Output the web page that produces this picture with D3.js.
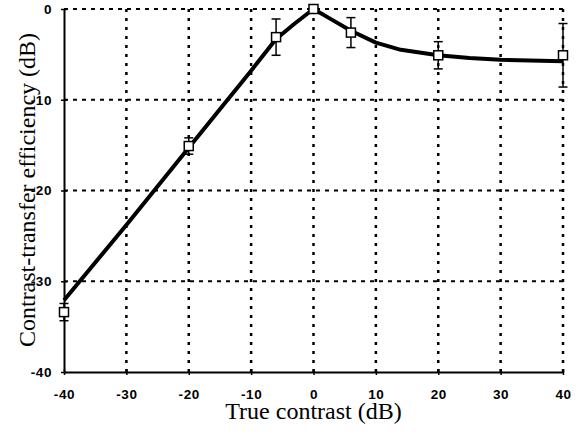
<!DOCTYPE html>
<html>
<head>
<meta charset="utf-8">
<script src="https://cdn.jsdelivr.net/npm/d3@7"></script>
<style>
  body { margin: 0; background: #fff; }
  .tick-label { font-family: "Liberation Sans", Arial, sans-serif; font-weight: bold; font-size: 13.5px; letter-spacing: 0.6px; }
  .axis-title { font-family: "Liberation Serif", "Times New Roman", serif; font-size: 24px; }
</style>
</head>
<body>
<div id="vis"></div>
<script>
// measured points (true contrast dB, efficiency dB, error)
var measX = [-40, -20, -6, 0, 6, 20, 40];
var measY = [-33.4, -15.1, -3.1, 0, -2.6, -5.1, -5.1];
var measErr = [0.95, 0.9, 2.0, 0, 1.65, 1.5, 3.5];

// fitted curve
var curveX = [-40, -30, -20, -14, -10, -6, -3, 0, 3, 6, 10, 14, 20, 25, 30, 40];
var curveY = [-32.1, -23.8, -15.3, -10.2, -6.8, -3.3, -1.6, 0, -1.2, -2.4, -3.7, -4.5, -5.1, -5.4, -5.6, -5.75];

var xTicks = [-40, -30, -20, -10, 0, 10, 20, 30, 40];
var yTicks = [-40, -30, -20, -10, 0];

var W = 586, H = 434;
var plotL = 64, plotR = 563, plotT = 9, plotB = 372;

var x = d3.scaleLinear().domain([-40, 40]).range([plotL, plotR]);
var y = d3.scaleLinear().domain([-40, 0]).range([plotB, plotT]);

var svg = d3.select("#vis").append("svg")
    .attr("width", W)
    .attr("height", H);

// grid: dashed horizontals, dotted verticals
svg.selectAll(".hgrid")
  .data(yTicks.filter(function(d) { return d > -40; }))
  .enter().append("line")
  .attr("x1", plotL).attr("x2", plotR)
  .attr("y1", function(d) { return y(d); })
  .attr("y2", function(d) { return y(d); })
  .attr("stroke", "#000")
  .attr("stroke-width", 2)
  .attr("stroke-dasharray", "4,5");

svg.selectAll(".vgrid")
  .data(xTicks.filter(function(d) { return d > -40; }))
  .enter().append("line")
  .attr("x1", function(d) { return x(d); })
  .attr("x2", function(d) { return x(d); })
  .attr("y1", plotB).attr("y2", plotT)
  .attr("stroke", "#000")
  .attr("stroke-width", 2.5)
  .attr("stroke-dasharray", "3,6");

// axes (plain hyphen minus like the original)
var fmt = function(d) { return String(d); };
var xAxis = svg.append("g")
  .attr("transform", "translate(0," + plotB + ")")
  .call(d3.axisBottom(x).tickValues(xTicks).tickFormat(fmt).tickSizeInner(3).tickSizeOuter(0).tickPadding(14));
var yAxis = svg.append("g")
  .attr("transform", "translate(" + plotL + ",0)")
  .call(d3.axisLeft(y).tickValues(yTicks).tickFormat(fmt).tickSizeInner(3).tickSizeOuter(0).tickPadding(9));

[xAxis, yAxis].forEach(function(a) {
  a.select(".domain").attr("stroke-width", 2);
  a.selectAll(".tick line").attr("stroke-width", 1.5);
  a.selectAll(".tick text").attr("class", "tick-label").attr("fill", "#000");
});
// ticks cross the axis
xAxis.selectAll(".tick line").attr("y1", -3).attr("y2", 3);
yAxis.selectAll(".tick line").attr("x1", -3).attr("x2", 3);

// fitted curve
var curveData = curveX.map(function(d, i) { return [d, curveY[i]]; });
svg.append("path")
  .datum(curveData)
  .attr("fill", "none")
  .attr("stroke", "#000")
  .attr("stroke-width", 4)
  .attr("stroke-linejoin", "round")
  .attr("d", d3.line()
    .x(function(d) { return x(d[0]); })
    .y(function(d) { return y(d[1]); }));

// error bars
var meas = measX.map(function(d, i) { return { x: d, y: measY[i], e: measErr[i] }; });
var eb = svg.selectAll(".err").data(meas.filter(function(d) { return d.e > 0; })).enter().append("g");
eb.append("line")
  .attr("x1", function(d) { return x(d.x); }).attr("x2", function(d) { return x(d.x); })
  .attr("y1", function(d) { return y(d.y + d.e); }).attr("y2", function(d) { return y(d.y - d.e); })
  .attr("stroke", "#000").attr("stroke-width", 1.5);
[1, -1].forEach(function(s) {
  eb.append("line")
    .attr("x1", function(d) { return x(d.x) - 4.5; }).attr("x2", function(d) { return x(d.x) + 4.5; })
    .attr("y1", function(d) { return y(d.y + s * d.e); }).attr("y2", function(d) { return y(d.y + s * d.e); })
    .attr("stroke", "#000").attr("stroke-width", 1.5);
});

// squares
svg.selectAll(".pt").data(meas).enter().append("rect")
  .attr("x", function(d) { return x(d.x) - 4.5; })
  .attr("y", function(d) { return y(d.y) - 4.5; })
  .attr("width", 9).attr("height", 9)
  .attr("fill", "#fff").attr("stroke", "#000").attr("stroke-width", 1.5);

// titles
svg.append("text")
  .attr("class", "axis-title")
  .attr("x", x(0)).attr("y", 419)
  .attr("text-anchor", "middle")
  .text("True contrast (dB)");
svg.append("text")
  .attr("class", "axis-title")
  .attr("transform", "translate(35,190) rotate(-90)")
  .attr("text-anchor", "middle")
  .text("Contrast-transfer efficiency (dB)");
</script>
</body>
</html>
